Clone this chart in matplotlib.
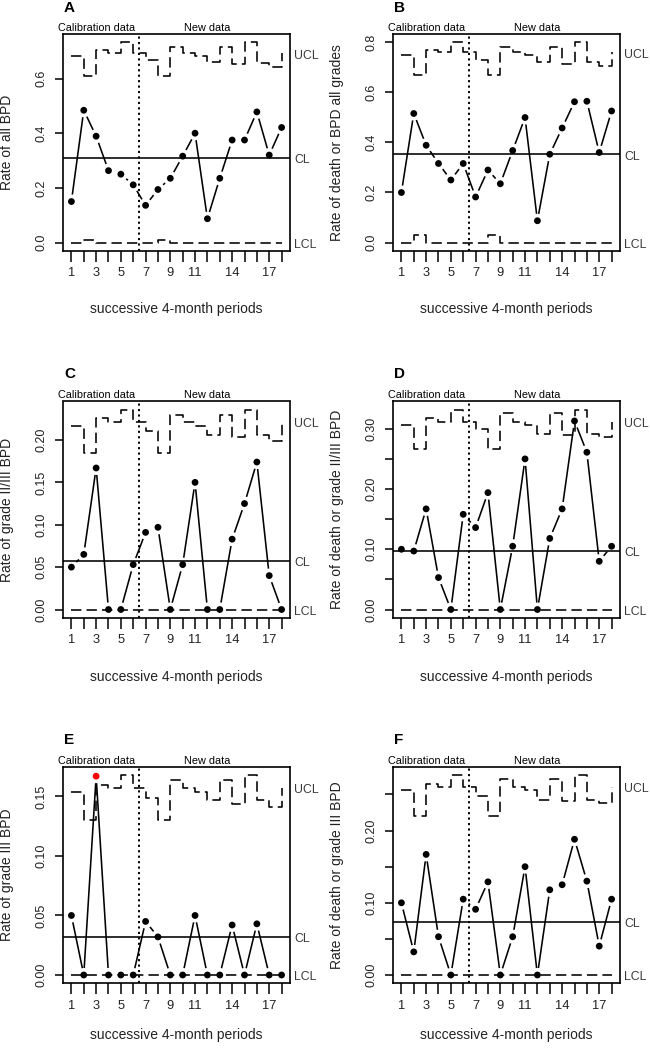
import numpy as np
import matplotlib
matplotlib.use("Agg")
import matplotlib.pyplot as plt
from matplotlib.transforms import blended_transform_factory

plt.rcParams['font.family'] = ['Liberation Sans', 'DejaVu Sans']

periods = list(range(1, 19))
xtick_labels = ['1', '', '3', '', '5', '', '7', '', '9', '', '11', '', '', '14', '', '', '17', '']

# panel A: all BPD
a_rate = [0.150, 0.484, 0.389, 0.263, 0.250, 0.211, 0.136, 0.194, 0.235,
          0.316, 0.400, 0.087, 0.235, 0.375, 0.375, 0.478, 0.320, 0.421]
a_ucl = [0.684, 0.611, 0.704, 0.692, 0.732, 0.692, 0.667, 0.611, 0.716,
         0.692, 0.684, 0.659, 0.716, 0.654, 0.732, 0.658, 0.641, 0.692]
a_lcl = [0, 0.010, 0, 0, 0, 0, 0, 0.010, 0, 0, 0, 0, 0, 0, 0, 0, 0, 0]
a_cl = 0.308

# panel B: death or BPD all grades
b_rate = [0.200, 0.516, 0.389, 0.316, 0.250, 0.316, 0.182, 0.290, 0.235,
          0.368, 0.500, 0.087, 0.353, 0.458, 0.563, 0.565, 0.360, 0.526]
b_ucl = [0.749, 0.669, 0.771, 0.760, 0.800, 0.760, 0.731, 0.669, 0.780,
         0.760, 0.749, 0.722, 0.780, 0.713, 0.800, 0.722, 0.706, 0.760]
b_lcl = [0, 0.031, 0, 0, 0, 0, 0, 0.031, 0, 0, 0, 0, 0, 0, 0, 0, 0, 0]
b_cl = 0.352

# panel C: grade II/III BPD
c_rate = [0.050, 0.065, 0.167, 0, 0, 0.053, 0.091, 0.097, 0,
          0.053, 0.150, 0, 0, 0.083, 0.125, 0.174, 0.040, 0]
c_ucl = [0.2166, 0.185, 0.226, 0.221, 0.236, 0.221, 0.211, 0.185, 0.230,
         0.221, 0.2166, 0.206, 0.230, 0.203, 0.236, 0.206, 0.199, 0.221]
c_lcl = [0] * 18
c_cl = 0.057

# panel D: death or grade II/III BPD
d_rate = [0.100, 0.097, 0.167, 0.053, 0, 0.158, 0.136, 0.194, 0,
          0.105, 0.250, 0, 0.118, 0.167, 0.313, 0.261, 0.080, 0.105]
d_ucl = [0.307, 0.266, 0.318, 0.312, 0.332, 0.312, 0.299, 0.266, 0.326,
         0.312, 0.307, 0.292, 0.326, 0.289, 0.332, 0.292, 0.286, 0.312]
d_lcl = [0] * 18
d_cl = 0.097

# panel E: grade III BPD
e_rate = [0.050, 0, 0.167, 0, 0, 0, 0.045, 0.032, 0,
          0, 0.050, 0, 0, 0.042, 0, 0.043, 0, 0]
e_ucl = [0.154, 0.130, 0.160, 0.157, 0.168, 0.157, 0.149, 0.130, 0.164,
         0.157, 0.154, 0.147, 0.164, 0.144, 0.168, 0.147, 0.1415, 0.157]
e_lcl = [0] * 18
e_cl = 0.032

# panel F: death or grade III BPD
f_rate = [0.100, 0.032, 0.167, 0.053, 0, 0.105, 0.091, 0.129, 0,
          0.053, 0.150, 0, 0.118, 0.125, 0.188, 0.130, 0.040, 0.105]
f_ucl = [0.256, 0.220, 0.265, 0.261, 0.277, 0.261, 0.248, 0.220, 0.271,
         0.261, 0.256, 0.243, 0.271, 0.241, 0.277, 0.243, 0.238, 0.261]
f_lcl = [0] * 18
f_cl = 0.0735

letters = ['A', 'B', 'C', 'D', 'E', 'F']
ylabels = ['Rate of all BPD', 'Rate of death or BPD all grades',
           'Rate of grade II/III BPD', 'Rate of death or grade II/III BPD',
           'Rate of grade III BPD', 'Rate of death or grade III BPD']
yticks = [[0, 0.2, 0.4, 0.6], [0, 0.2, 0.4, 0.6, 0.8],
          [0, 0.05, 0.10, 0.15, 0.20], [0, 0.05, 0.10, 0.15, 0.20, 0.25, 0.30],
          [0, 0.05, 0.10, 0.15], [0, 0.05, 0.10, 0.15, 0.20, 0.25]]
ytick_labels = [['0.0', '0.2', '0.4', '0.6'], ['0.0', '0.2', '0.4', '0.6', '0.8'],
                ['0.00', '0.05', '0.10', '0.15', '0.20'],
                ['0.00', '', '0.10', '', '0.20', '', '0.30'],
                ['0.00', '0.05', '0.10', '0.15'],
                ['0.00', '', '0.10', '', '0.20', '']]
rates = [a_rate, b_rate, c_rate, d_rate, e_rate, f_rate]
ucls = [a_ucl, b_ucl, c_ucl, d_ucl, e_ucl, f_ucl]
lcls = [a_lcl, b_lcl, c_lcl, d_lcl, e_lcl, f_lcl]
cls = [a_cl, b_cl, c_cl, d_cl, e_cl, f_cl]

W, H = 650, 1049
fig = plt.figure(figsize=(W / 100, H / 100), dpi=100)

lefts = [63, 393]
tops = [34.5, 401.5, 767]
xlab_drop = [59, 59, 52]   # px from box bottom to x-label centre
aw, ah = 227, 216


def gapped_line(ax, x, y, gap=7):
    # R type="b": segments stop short of the points
    pts = ax.transData.transform(np.column_stack([x, y]))
    inv = ax.transData.inverted()
    for p0, p1 in zip(pts[:-1], pts[1:]):
        d = p1 - p0
        L = np.hypot(d[0], d[1])
        if L <= 2 * gap:
            continue
        u = d / L
        a = inv.transform(p0 + u * gap)
        b = inv.transform(p1 - u * gap)
        ax.plot([a[0], b[0]], [a[1], b[1]], color='black', lw=1.15,
                solid_capstyle='butt')


for i in range(6):
    col, row = i % 2, i // 2
    left, top = lefts[col], tops[row]
    ax = fig.add_axes([left / W, 1 - (top + ah) / H, aw / W, ah / H])
    rate, ucl, lcl, cl = rates[i], ucls[i], lcls[i], cls[i]

    hi = max(max(rate), max(ucl))
    lo = min(min(rate), min(lcl))
    pad = 0.04 * (hi - lo)
    ax.set_xlim(0.32, 18.68)
    ax.set_ylim(lo - pad, hi + pad)

    dash = (0, (6.5, 3.2))
    ax.step(periods, ucl, where='post', color='black', lw=1.15, linestyle=dash)
    ax.step(periods, lcl, where='post', color='black', lw=1.15, linestyle=dash)
    ax.axhline(cl, color='black', lw=1.15)
    ax.axvline(6.5, color='black', lw=1.4, linestyle=(0, (1.1, 1.7)))

    gapped_line(ax, periods, rate)
    colors = ['red' if r > u else 'black' for r, u in zip(rate, ucl)]
    ax.scatter(periods, rate, s=24, c=colors, zorder=3, linewidths=0)

    ax.set_xticks(periods)
    ax.set_xticklabels(xtick_labels, fontsize=9.3)
    ax.set_yticks(yticks[i])
    ax.set_yticklabels(ytick_labels[i], fontsize=9, rotation=90, va='center')
    ax.tick_params(axis='x', direction='out', length=8, width=1.1, pad=4,
                   colors='black', labelcolor='#222222')
    ax.tick_params(axis='y', direction='out', length=6, width=1.1, pad=5,
                   colors='black', labelcolor='#222222')
    for s in ax.spines.values():
        s.set_linewidth(1.2)

    ax.set_xlabel('successive 4-month periods', fontsize=10, va='center',
                  color='#222222')
    ax.xaxis.set_label_coords(0.5, -xlab_drop[row] / ah)
    ax.set_ylabel(ylabels[i], fontsize=10, va='center', color='#222222')
    ax.yaxis.set_label_coords(-56 / aw, 0.5)

    top_tr = blended_transform_factory(ax.transData, ax.transAxes)
    ax.text(3.0, 1.005, 'Calibration data', transform=top_tr, ha='center',
            va='bottom', fontsize=7.8)
    ax.text(12.0, 1.005, 'New data', transform=top_tr, ha='center',
            va='bottom', fontsize=7.8)

    right_tr = blended_transform_factory(ax.transAxes, ax.transData)
    for name, val in [('UCL', ucl[-1]), ('CL', cl), ('LCL', lcl[-1])]:
        ax.annotate(name, xy=(1.0, val), xycoords=right_tr, xytext=(3, -1.5),
                    textcoords='offset points', ha='left', va='center',
                    fontsize=8.8, color='#3a3a3a', annotation_clip=False)

    fig.text((left + 1) / W, 1 - (top - 27) / H, letters[i], fontsize=11,
             fontweight='bold', ha='left', va='center')

fig.savefig('out.png', dpi=100)
